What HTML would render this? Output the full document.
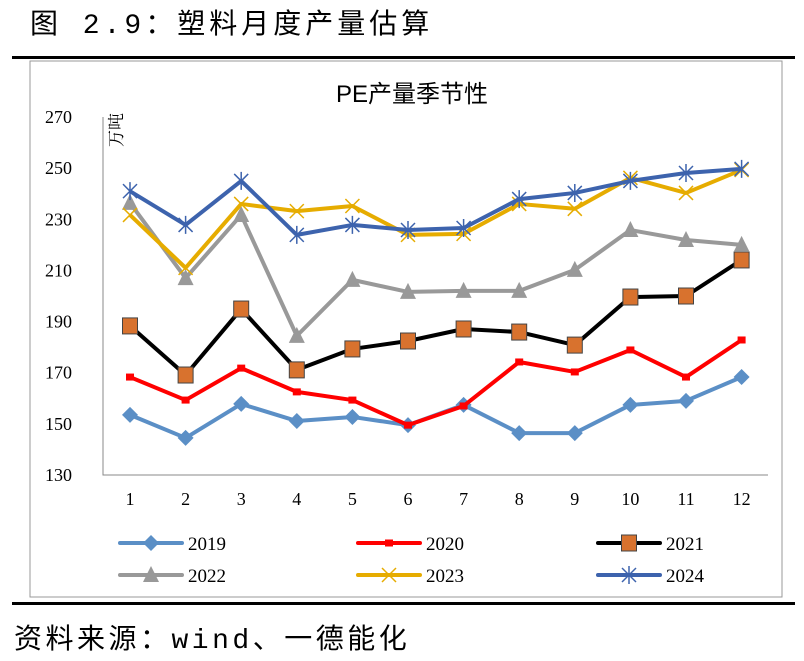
<!DOCTYPE html>
<html><head><meta charset="utf-8"><style>
body{margin:0;background:#fff;width:804px;height:661px;overflow:hidden;position:relative;font-family:"Liberation Serif","Noto Serif CJK SC",serif}
.h{position:absolute;left:30px;top:2px;font-size:28px;font-family:"Liberation Mono","Noto Sans CJK SC",monospace;letter-spacing:4px}
.f{position:absolute;left:14px;top:617px;font-size:28px;font-family:"Liberation Mono","Noto Sans CJK SC",monospace;letter-spacing:3.5px}
</style></head><body>
<div class="h">图 2.9：塑料月度产量估算</div>
<div style="position:absolute;left:12px;top:56px;width:783px;height:3px;background:#000"></div>
<div style="position:absolute;left:12px;top:602px;width:783px;height:3px;background:#000"></div>
<div class="f">资料来源：wind、一德能化</div>
<svg id="c" width="804" height="661" style="position:absolute;left:0;top:0">
<rect x="30" y="61" width="752" height="536" fill="none" stroke="#999" stroke-width="1"/>
<text x="412" y="102" text-anchor="middle" font-size="24" font-family="Liberation Sans,Noto Sans CJK SC,sans-serif">PE产量季节性</text>
<text transform="translate(122,130) rotate(-90)" text-anchor="middle" font-size="17" font-family="Noto Serif CJK SC,serif">万吨</text>
</svg>
<script>
const categories=['1','2','3','4','5','6','7','8','9','10','11','12'];
const yTicks=[130,150,170,190,210,230,250,270];
const s2019=[153.5,144.5,157.8,151.1,152.7,149.5,157.4,146.4,146.4,157.4,159,168.3];
const s2020=[168.3,159.3,171.8,162.5,159.3,149.5,157,174.2,170.3,178.9,168.3,182.8];
const s2021=[188.3,169.1,194.9,171.1,179.3,182.4,187.1,185.9,180.8,199.6,200,214.1];
const s2022=[236.4,207,231.7,184.4,206.3,201.6,202,202,210.2,225.8,221.9,220];
const s2023=[231.7,211,236,233.2,235.2,223.9,224.3,236,234.1,246.2,240.3,249.3];
const s2024=[241,227.8,245,223.9,227.8,225.8,226.6,237.9,240.3,245,248.1,249.7];
const seriesNames=['2019','2020','2021','2022','2023','2024'];
const svg=document.getElementById('c');const NS='http://www.w3.org/2000/svg';
const xS=i=>130+i*55.6;const yS=v=>475-(v-130)*(358/140);
function mk(t,a,p){const e=document.createElementNS(NS,t);for(const k in a)e.setAttribute(k,a[k]);(p||svg).appendChild(e);return e;}
let ax=mk('path',{d:'M103,117V475H768',fill:'none',stroke:'#888','stroke-width':1});


yTicks.forEach(v=>{const t=mk('text',{x:72,y:yS(v)+6,'text-anchor':'end','font-size':18});t.textContent=v;

});
categories.forEach((c,i)=>{const t=mk('text',{x:xS(i),y:505,'text-anchor':'middle','font-size':18});t.textContent=c;

});
const cols=['#5b8fc6','#ff0000','#000000','#999999','#e6ac00','#3d63ad'];
const data=[s2019,s2020,s2021,s2022,s2023,s2024];
function marker(k,x,y,g){
 if(k==0)mk('path',{d:`M${x},${y-8}L${x+8},${y}L${x},${y+8}L${x-8},${y}Z`,fill:cols[0]},g);
 else if(k==1)mk('rect',{x:x-4,y:y-3.5,width:8,height:7,fill:cols[1]},g);
 else if(k==2)mk('rect',{x:x-7.5,y:y-8,width:15,height:16,fill:'#d8722e',stroke:'#444','stroke-width':1},g);
 else if(k==3)mk('path',{d:`M${x},${y-9}L${x+8},${y+7}L${x-8},${y+7}Z`,fill:cols[3]},g);
 else if(k==4)mk('path',{d:`M${x-7},${y-7}L${x+7},${y+7}M${x+7},${y-7}L${x-7},${y+7}`,stroke:cols[4],'stroke-width':1.5},g);
 else mk('path',{d:`M${x-7},${y-7}L${x+7},${y+7}M${x+7},${y-7}L${x-7},${y+7}M${x},${y-9}V${y+9}`,stroke:cols[5],'stroke-width':1.5},g);
}
data.forEach((d,k)=>{const g=mk('g',{});


mk('polyline',{points:d.map((v,i)=>xS(i)+','+yS(v)).join(' '),fill:'none',stroke:cols[k],'stroke-width':4,'stroke-linejoin':'round'},g);
d.forEach((v,i)=>marker(k,xS(i),yS(v),g));
const lx=[120,358,598][k%3],ly=k<3?543:575;
const lg=mk('g',{});


mk('line',{x1:lx,y1:ly,x2:lx+62,y2:ly,stroke:cols[k],'stroke-width':4,'stroke-linecap':'round'},lg);
marker(k,lx+31,ly,lg);
const t=mk('text',{x:lx+68,y:ly+7,'font-size':19},lg);t.textContent=seriesNames[k];
});
</script>
</body></html>
